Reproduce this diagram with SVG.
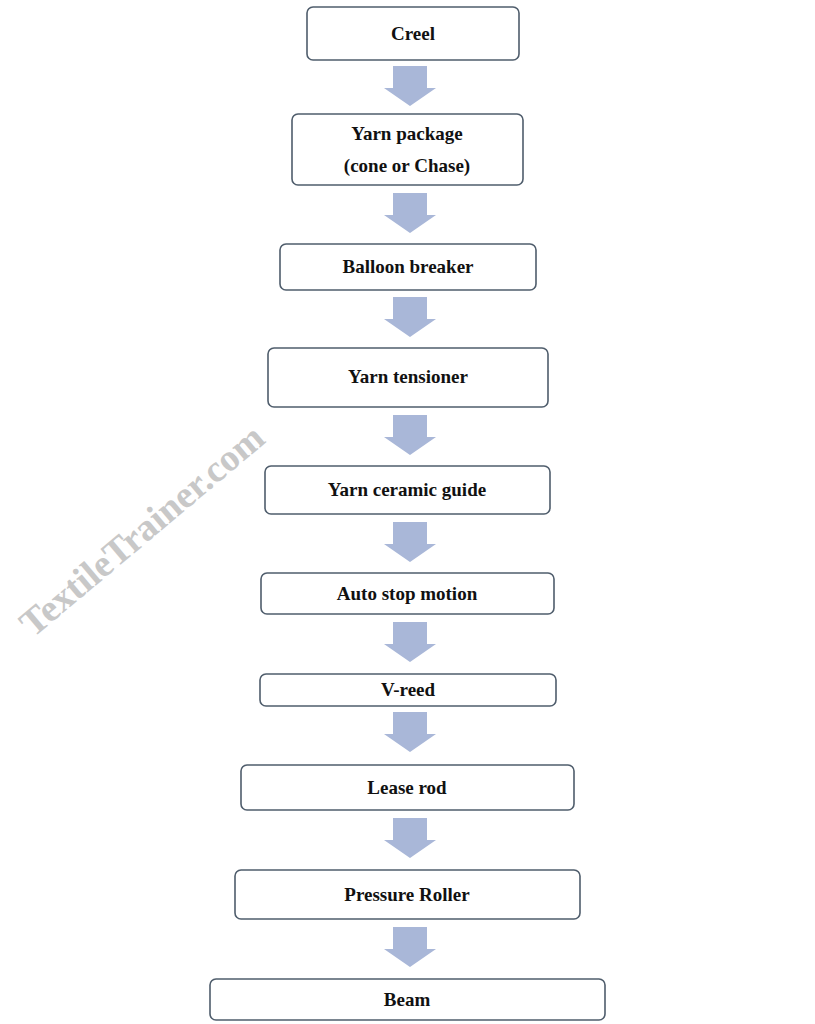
<svg xmlns="http://www.w3.org/2000/svg" width="815" height="1024" viewBox="0 0 815 1024">
<style>
.b{fill:#fff;stroke:#4f5d6c;stroke-width:1.6}
.t{font-family:"Liberation Serif",serif;font-weight:bold;font-size:19px;fill:#111;text-anchor:middle}
.a{fill:#a9b7d8}
</style>
<defs><path id="ar" d="M-17,0 H17 V22 H26 L0,40 L-26,22 H-17 Z"/></defs>
<rect width="815" height="1024" fill="#fff"/>
<text x="150" y="540" transform="rotate(-40 150 540)" font-family="Liberation Serif,serif" font-weight="bold" font-size="38" fill="#c8c8c8" text-anchor="middle">TextileTrainer.com</text>
<g id="connectors">
<use href="#ar" class="a" x="410" y="66"/>
<use href="#ar" class="a" x="410" y="193"/>
<use href="#ar" class="a" x="410" y="297"/>
<use href="#ar" class="a" x="410" y="415"/>
<use href="#ar" class="a" x="410" y="522"/>
<use href="#ar" class="a" x="410" y="622"/>
<use href="#ar" class="a" x="410" y="712"/>
<use href="#ar" class="a" x="410" y="818"/>
<use href="#ar" class="a" x="410" y="927"/>
</g>
<g id="n1"><rect class="b" x="307" y="7" width="212" height="53" rx="6"/><text class="t" x="413" y="40">Creel</text></g>
<g id="n2"><rect class="b" x="292" y="114" width="231" height="71" rx="6"/><text class="t" x="407" y="140">Yarn package</text><text class="t" x="407" y="172">(cone or Chase)</text></g>
<g id="n3"><rect class="b" x="280" y="244" width="256" height="46" rx="6"/><text class="t" x="408" y="273">Balloon breaker</text></g>
<g id="n4"><rect class="b" x="268" y="348" width="280" height="59" rx="6"/><text class="t" x="408" y="383">Yarn tensioner</text></g>
<g id="n5"><rect class="b" x="265" y="466" width="285" height="48" rx="6"/><text class="t" x="407" y="496">Yarn ceramic guide</text></g>
<g id="n6"><rect class="b" x="261" y="573" width="293" height="41" rx="6"/><text class="t" x="407" y="600">Auto stop motion</text></g>
<g id="n7"><rect class="b" x="260" y="674" width="296" height="32" rx="6"/><text class="t" x="408" y="696">V-reed</text></g>
<g id="n8"><rect class="b" x="241" y="765" width="333" height="45" rx="6"/><text class="t" x="407" y="794">Lease rod</text></g>
<g id="n9"><rect class="b" x="235" y="870" width="345" height="49" rx="6"/><text class="t" x="407" y="901">Pressure Roller</text></g>
<g id="n10"><rect class="b" x="210" y="979" width="395" height="41" rx="6"/><text class="t" x="407" y="1006">Beam</text></g>
</svg>
